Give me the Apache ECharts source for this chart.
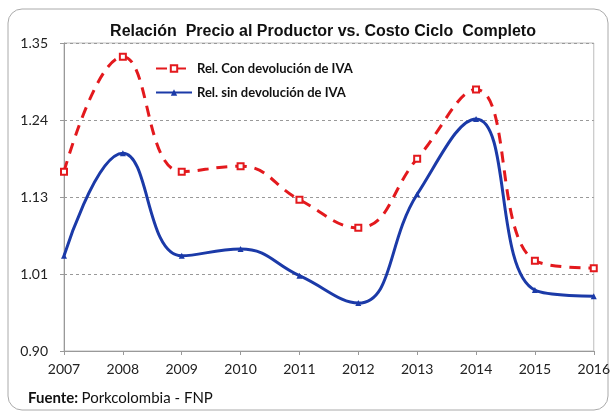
<!DOCTYPE html>
<html>
<head>
<meta charset="utf-8" />
<title>Relación Precio al Productor vs. Costo Ciclo Completo</title>
<script src="https://cdn.jsdelivr.net/npm/echarts@6/dist/echarts.min.js"></script>
<style>
  html, body { margin: 0; padding: 0; background: #fff; }
  #chart { width: 613px; height: 418px; }
</style>
</head>
<body>
<div id="chart"></div>
<script>
// datos
var years = ['2007', '2008', '2009', '2010', '2011', '2012', '2013', '2014', '2015', '2016'];
var conIva = [1.162, 1.330, 1.162, 1.170, 1.121, 1.080, 1.181, 1.282, 1.032, 1.021];
var sinIva = [1.039, 1.189, 1.039, 1.049, 1.010, 0.970, 1.129, 1.239, 0.989, 0.980];
var seriesNames = ['Rel. Con devolución de IVA', 'Rel. sin devolución de IVA'];

var chart = echarts.init(document.getElementById('chart'));

var option = {
  animation: false,
  title: {
    text: 'Relación  Precio al Productor vs. Costo Ciclo  Completo',
    left: 318,
    textAlign: 'center',
    top: 19,
    textStyle: { fontFamily: 'Liberation Sans', fontSize: 16, fontWeight: 'bold', color: '#111' }
  },
  legend: {
    orient: 'vertical',
    left: 150,
    top: 57,
    itemWidth: 36,
    itemHeight: 8,
    itemGap: 11,
    textStyle: { fontFamily: 'Lato', fontSize: 13, fontWeight: 'bold', color: '#111' },
    data: seriesNames
  },
  grid: {
    left: 64, right: 16, top: 43, bottom: 67,
    show: true, borderColor: '#bdbdbd', borderWidth: 1
  },
  xAxis: {
    type: 'category',
    data: years,
    boundaryGap: false,
    axisLine: { lineStyle: { color: '#999' } },
    axisTick: { alignWithLabel: true, length: 4, lineStyle: { color: '#999' } },
    axisLabel: { fontFamily: 'Lato', fontSize: 14, color: '#222', margin: 11 },
    splitLine: { show: false }
  },
  yAxis: {
    type: 'value',
    min: 0.9,
    max: 1.35,
    interval: 0.1125,
    axisLine: { show: true, lineStyle: { color: '#999' } },
    axisTick: { show: true, length: 4, lineStyle: { color: '#999' } },
    axisLabel: {
      fontFamily: 'Lato', fontSize: 14, color: '#222', margin: 16,
      formatter: function (v) { return (Math.round(v * 100) / 100).toFixed(2); }
    },
    splitLine: { show: true, lineStyle: { color: '#999', type: [3, 3] } }
  },
  series: [
    {
      name: seriesNames[0],
      type: 'line',
      data: conIva,
      smooth: 0.45,
      symbol: 'emptyRect',
      symbolSize: 6,
      lineStyle: { color: '#e3191d', width: 3, type: [11, 8] },
      itemStyle: { color: '#e3191d', borderWidth: 1 },
      z: 3
    },
    {
      name: seriesNames[1],
      type: 'line',
      data: sinIva,
      smooth: 0.45,
      symbol: 'triangle',
      symbolSize: 6,
      lineStyle: { color: '#1b3aa8', width: 3 },
      itemStyle: { color: '#1b3aa8' },
      z: 4
    }
  ],
  graphic: [
    {
      type: 'rect',
      shape: { x: 8, y: 9, width: 600, height: 401, r: 14 },
      style: { fill: 'none', stroke: '#aaa', lineWidth: 1 },
      silent: true
    },
    {
      type: 'text',
      left: 28,
      top: 391,
      style: {
        text: '{b|Fuente:} {n|Porkcolombia - FNP}',
        rich: {
          b: { fontFamily: 'Lato', fontSize: 15, fontWeight: 'bold', fill: '#111' },
          n: { fontFamily: 'Lato', fontSize: 15, fill: '#111' }
        }
      }
    }
  ]
};

chart.setOption(option);
</script>
</body>
</html>
